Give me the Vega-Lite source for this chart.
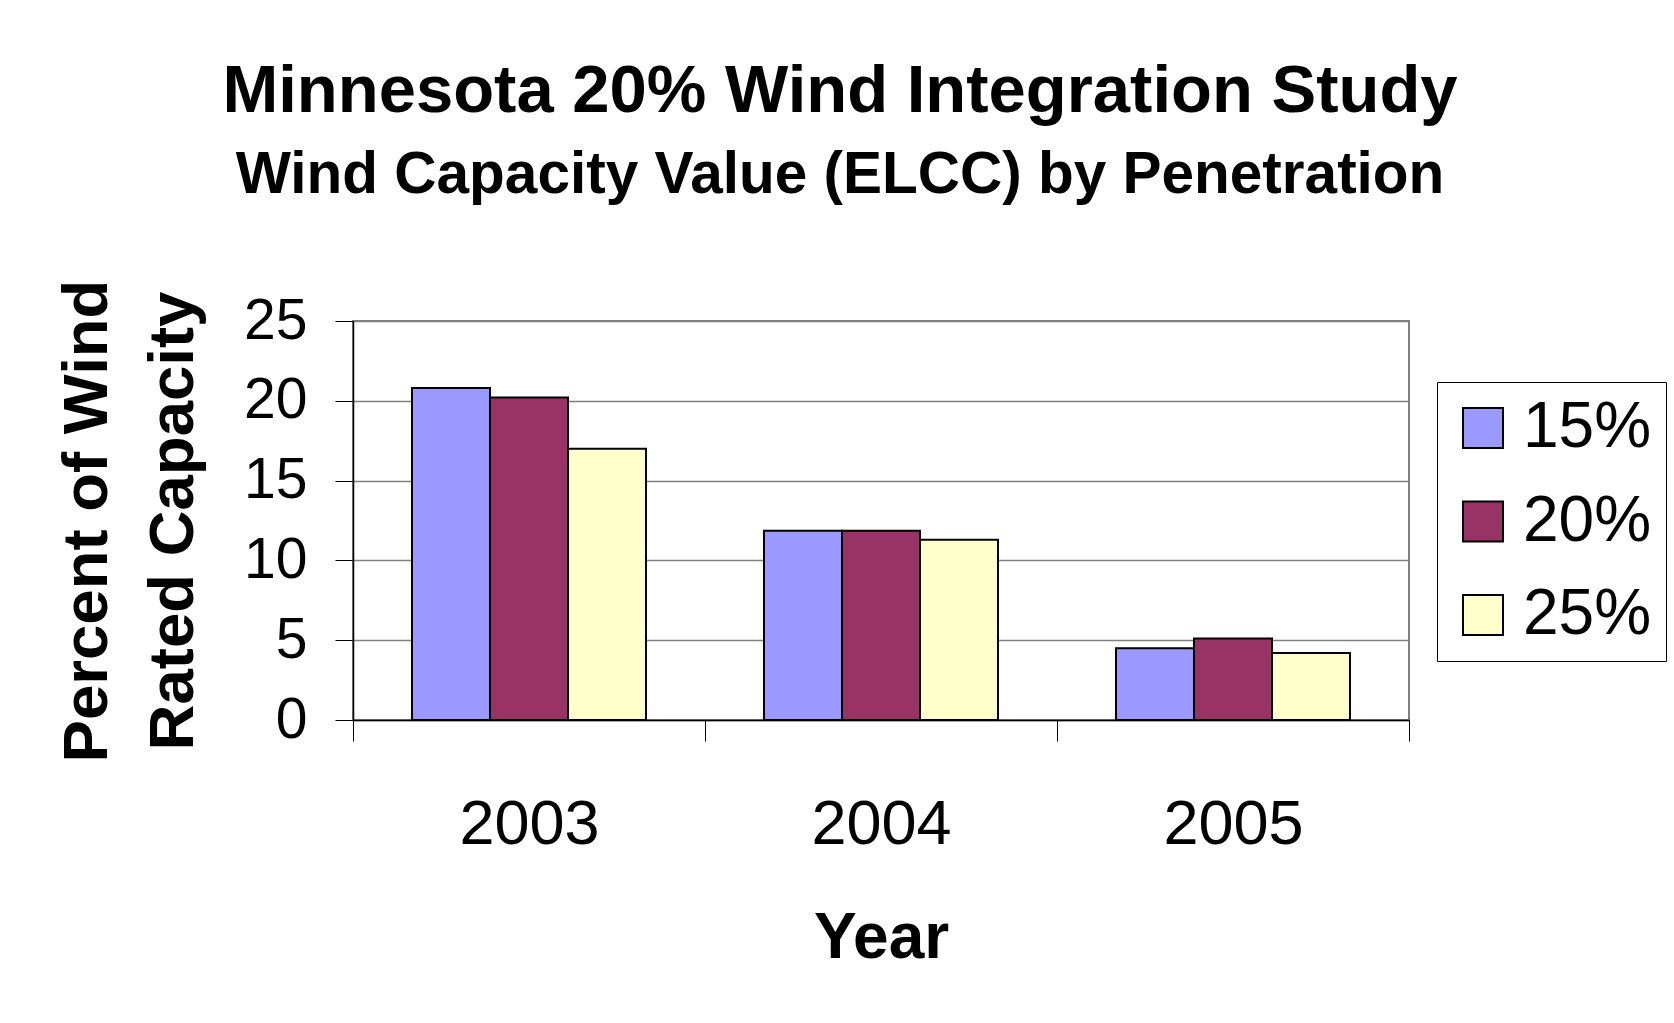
{
  "$schema": "https://vega.github.io/schema/vega-lite/v6.json",
  "width": 1056,
  "height": 399,
  "autosize": {"type": "none"},
  "padding": {"left": 353, "top": 321, "right": 265, "bottom": 303},
  "background": "white",
  "title": {
    "text": "Minnesota 20% Wind Integration Study",
    "subtitle": "Wind Capacity Value (ELCC) by Penetration",
    "font": "Liberation Sans",
    "subtitleFont": "Liberation Sans",
    "fontSize": 67,
    "subtitleFontSize": 58.5,
    "fontWeight": "bold",
    "subtitleFontWeight": "bold",
    "color": "black",
    "subtitleColor": "black",
    "anchor": "middle",
    "dx": -41,
    "offset": 74,
    "subtitlePadding": 21
  },
  "data": {
    "values": [
      {"year": "2003", "penetration": "15%", "value": 20.8},
      {"year": "2003", "penetration": "20%", "value": 20.2},
      {"year": "2003", "penetration": "25%", "value": 17.0},
      {"year": "2004", "penetration": "15%", "value": 11.85},
      {"year": "2004", "penetration": "20%", "value": 11.85},
      {"year": "2004", "penetration": "25%", "value": 11.3},
      {"year": "2005", "penetration": "15%", "value": 4.5},
      {"year": "2005", "penetration": "20%", "value": 5.1},
      {"year": "2005", "penetration": "25%", "value": 4.2}
    ]
  },
  "mark": {"type": "bar", "stroke": "black", "strokeWidth": 2},
  "encoding": {
    "x": {
      "field": "year",
      "type": "nominal",
      "scale": {"paddingInner": 0, "paddingOuter": 0},
      "axis": {
        "title": "Year",
        "titleFont": "Liberation Sans",
        "titleFontSize": 64,
        "titleFontWeight": "bold",
        "titleColor": "black",
        "titlePadding": 50,
        "labelAngle": 0,
        "labelFont": "Liberation Sans",
        "labelFontSize": 63,
        "labelColor": "black",
        "labelPadding": 52,
        "tickSize": 21,
        "tickColor": "black",
        "tickBand": "extent",
        "domainColor": "black",
        "domainWidth": 1.5,
        "grid": false
      }
    },
    "xOffset": {
      "field": "penetration",
      "type": "nominal",
      "scale": {"paddingInner": 0, "paddingOuter": 0.7564}
    },
    "y": {
      "field": "value",
      "type": "quantitative",
      "scale": {"domain": [0, 25], "nice": false},
      "axis": {
        "values": [0, 5, 10, 15, 20, 25],
        "title": ["Percent of Wind", "Rated Capacity"],
        "titleFont": "Liberation Sans",
        "titleFontSize": 63.5,
        "titleFontWeight": "bold",
        "titleColor": "black",
        "titleLineHeight": 86,
        "titlePadding": 38,
        "labelFont": "Liberation Sans",
        "labelFontSize": 57,
        "labelColor": "black",
        "labelPadding": 28,
        "tickSize": 18,
        "tickColor": "black",
        "domainColor": "black",
        "domainWidth": 1.5,
        "grid": true,
        "gridColor": "#808080",
        "gridWidth": 1.5
      }
    },
    "color": {
      "field": "penetration",
      "type": "nominal",
      "scale": {"domain": ["15%", "20%", "25%"], "range": ["#9999FF", "#993366", "#FFFFCC"]},
      "legend": {
        "orient": "none",
        "legendX": 1084,
        "legendY": 61,
        "title": null,
        "labelFont": "Liberation Sans",
        "labelFontSize": 64,
        "labelColor": "black",
        "symbolType": "square",
        "symbolSize": 1600,
        "symbolStrokeColor": "black",
        "symbolStrokeWidth": 2,
        "symbolOpacity": 1,
        "labelOffset": 8,
        "rowPadding": 29.5,
        "padding": 14,
        "strokeColor": "black",
        "fillColor": "white"
      }
    }
  },
  "config": {"view": {"stroke": "#808080", "strokeWidth": 2}}
}
